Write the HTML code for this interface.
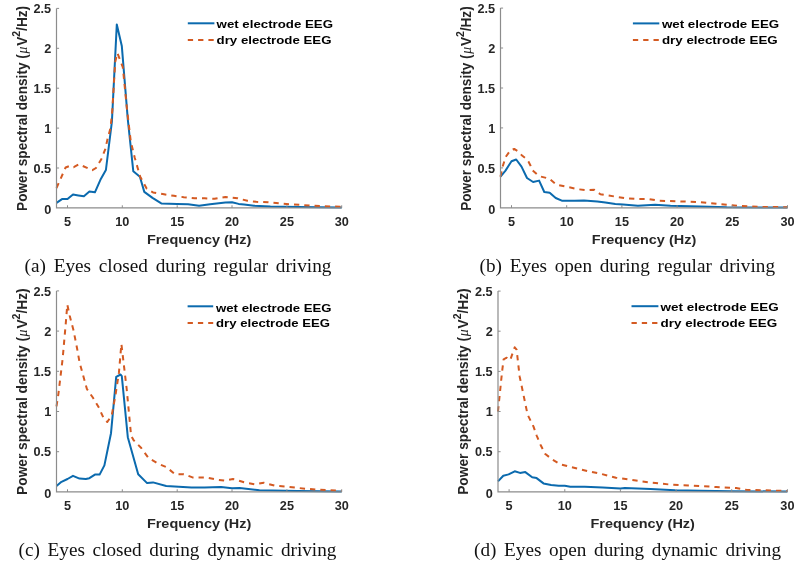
<!DOCTYPE html>
<html><head><meta charset="utf-8"><title>EEG power spectral density</title>
<style>
html,body{margin:0;padding:0;background:#fff;}
body{width:800px;height:561px;overflow:hidden;}
svg{display:block;filter:blur(0.3px);}
.t{font-family:"Liberation Sans",Arial,sans-serif;font-weight:bold;fill:#262626;}
.cap{font-family:"Liberation Serif","Times New Roman",serif;fill:#111;}
</style></head><body>
<svg width="800" height="561" viewBox="0 0 800 561">
<rect width="800" height="561" fill="#fff"/>
<g>
<polyline points="56.5,202.8 62.0,199.1 67.5,199.1 73.0,194.5 78.4,195.4 83.9,196.2 89.4,191.6 94.9,192.3 100.4,179.8 105.9,170.0 111.9,121.7 116.8,24.4 121.8,45.9 127.8,119.3 133.3,171.3 139.9,176.8 144.3,191.9 152.5,197.9 161.3,203.4 177.2,204.0 188.1,204.3 199.1,205.7 210.1,204.3 225.4,202.6 232.0,202.2 238.6,203.9 244.1,204.5 254.0,205.7 270.4,206.6 297.8,207.1 341.7,207.6" fill="none" stroke="#0b6aae" stroke-width="2.0" stroke-linejoin="round"/>
<polyline points="56.5,188.0 65.6,167.5 69.9,165.9 73.7,167.2 79.0,164.3 92.4,170.2 96.0,168.0 101.3,159.2 105.3,149.1 107.6,138.7 110.5,128.1 112.3,110.5 115.2,61.9 117.4,53.1 122.8,67.1 126.8,107.4 130.8,141.7 134.8,157.9 140.2,176.8 146.8,188.7 153.0,192.4 164.0,194.3 173.9,195.8 183.8,197.2 194.7,198.3 204.6,198.3 214.5,198.8 225.4,197.0 237.5,198.2 247.4,200.8 256.2,201.8 268.2,202.3 279.2,203.4 289.1,204.2 300.0,204.9 309.9,205.5 320.9,206.0 330.8,206.5 341.7,206.8" fill="none" stroke="#d45a22" stroke-width="2.0" stroke-linejoin="round" stroke-dasharray="5.3 5"/>
<path d="M56.5 8.4 V207.9 H341.7" fill="none" stroke="#8c8c8c" stroke-width="1.2"/>
<path d="M56.5 168.0h2.6 M56.5 128.1h2.6 M56.5 88.2h2.6 M56.5 48.3h2.6 M56.5 8.4h2.6 M67.5 207.9v-2.6 M122.3 207.9v-2.6 M177.2 207.9v-2.6 M232.0 207.9v-2.6 M286.9 207.9v-2.6 M341.7 207.9v-2.6" stroke="#8c8c8c" stroke-width="1"/>
<text class="t" x="0.0" y="213.9" font-size="12" text-anchor="end" transform="translate(51.2 0) scale(1.06 1) translate(0.0 0)">0</text>
<text class="t" x="0.0" y="172.8" font-size="12" text-anchor="end" transform="translate(51.2 0) scale(1.06 1) translate(0.0 0)">0.5</text>
<text class="t" x="0.0" y="132.9" font-size="12" text-anchor="end" transform="translate(51.2 0) scale(1.06 1) translate(0.0 0)">1</text>
<text class="t" x="0.0" y="93.0" font-size="12" text-anchor="end" transform="translate(51.2 0) scale(1.06 1) translate(0.0 0)">1.5</text>
<text class="t" x="0.0" y="53.1" font-size="12" text-anchor="end" transform="translate(51.2 0) scale(1.06 1) translate(0.0 0)">2</text>
<text class="t" x="0.0" y="13.2" font-size="12" text-anchor="end" transform="translate(51.2 0) scale(1.06 1) translate(0.0 0)">2.5</text>
<text class="t" x="0" y="226.3" font-size="12" text-anchor="middle" transform="translate(67.5 0) scale(1.06 1)">5</text>
<text class="t" x="0" y="226.3" font-size="12" text-anchor="middle" transform="translate(122.3 0) scale(1.06 1)">10</text>
<text class="t" x="0" y="226.3" font-size="12" text-anchor="middle" transform="translate(177.2 0) scale(1.06 1)">15</text>
<text class="t" x="0" y="226.3" font-size="12" text-anchor="middle" transform="translate(232.0 0) scale(1.06 1)">20</text>
<text class="t" x="0" y="226.3" font-size="12" text-anchor="middle" transform="translate(286.9 0) scale(1.06 1)">25</text>
<text class="t" x="0" y="226.3" font-size="12" text-anchor="middle" transform="translate(341.7 0) scale(1.06 1)">30</text>
<text class="t" x="199.1" y="243.8" font-size="13.5" text-anchor="middle" textLength="104.4" lengthAdjust="spacingAndGlyphs">Frequency (Hz)</text>
<text class="t" font-size="12.6" transform="translate(26.9 210.9) rotate(-90) scale(1 1.12)" textLength="205.0" lengthAdjust="spacingAndGlyphs">Power spectral density (<tspan dx="0.6" style="font-family:&quot;Liberation Serif&quot;,serif;font-style:italic;font-weight:normal">μ</tspan><tspan dx="0.8">V</tspan><tspan font-size="9.7" dy="-6.3">2</tspan><tspan dy="6.3">/Hz)</tspan></text>
<line x1="187.8" y1="23.3" x2="214.4" y2="23.3" stroke="#0b6aae" stroke-width="2"/>
<line x1="187.8" y1="40.0" x2="214.4" y2="40.0" stroke="#d45a22" stroke-width="2" stroke-dasharray="5.3 5"/>
<text class="t" x="216.6" y="27.9" font-size="11.6" textLength="116.4" lengthAdjust="spacingAndGlyphs" style="fill:#000">wet electrode EEG</text>
<text class="t" x="216.6" y="43.6" font-size="11.6" textLength="114.9" lengthAdjust="spacingAndGlyphs" style="fill:#000">dry electrode EEG</text>
<text class="cap" x="24.6" y="272.0" font-size="19.2" word-spacing="2.9" textLength="306.8" lengthAdjust="spacingAndGlyphs">(a) Eyes closed during regular driving</text>
</g>
<g>
<polyline points="500.5,176.6 505.5,170.6 511.5,161.2 516.2,159.5 521.5,166.6 527.0,178.0 533.1,182.0 539.1,180.6 544.3,192.0 549.7,192.7 555.7,198.0 561.8,200.7 574.5,200.7 584.0,200.4 597.3,201.4 605.4,202.6 615.3,204.0 623.0,204.6 637.9,205.7 655.1,204.8 670.5,205.7 700.3,206.4 726.8,207.2 787.5,207.6" fill="none" stroke="#0b6aae" stroke-width="2.0" stroke-linejoin="round"/>
<polyline points="500.5,176.6 502.6,166.7 505.7,156.9 510.5,150.3 514.2,148.9 519.0,152.0 521.7,155.2 526.2,158.7 528.4,161.5 530.6,165.8 532.4,170.3 536.9,174.3 540.9,176.6 549.1,178.6 556.5,184.6 566.5,186.7 578.6,189.3 587.3,190.2 594.3,189.8 600.4,194.2 615.3,196.6 625.3,198.2 638.5,199.0 648.4,199.0 658.4,200.7 680.5,201.4 700.3,202.2 718.0,204.0 737.9,205.7 763.3,207.0 787.5,207.2" fill="none" stroke="#d45a22" stroke-width="2.0" stroke-linejoin="round" stroke-dasharray="5.3 5"/>
<path d="M500.5 8.1 V207.8 H787.5" fill="none" stroke="#8c8c8c" stroke-width="1.2"/>
<path d="M500.5 167.9h2.6 M500.5 127.9h2.6 M500.5 88.0h2.6 M500.5 48.0h2.6 M500.5 8.1h2.6 M511.5 207.8v-2.6 M566.7 207.8v-2.6 M621.9 207.8v-2.6 M677.1 207.8v-2.6 M732.3 207.8v-2.6 M787.5 207.8v-2.6" stroke="#8c8c8c" stroke-width="1"/>
<text class="t" x="0.0" y="213.8" font-size="12" text-anchor="end" transform="translate(495.2 0) scale(1.06 1) translate(0.0 0)">0</text>
<text class="t" x="0.0" y="172.7" font-size="12" text-anchor="end" transform="translate(495.2 0) scale(1.06 1) translate(0.0 0)">0.5</text>
<text class="t" x="0.0" y="132.7" font-size="12" text-anchor="end" transform="translate(495.2 0) scale(1.06 1) translate(0.0 0)">1</text>
<text class="t" x="0.0" y="92.8" font-size="12" text-anchor="end" transform="translate(495.2 0) scale(1.06 1) translate(0.0 0)">1.5</text>
<text class="t" x="0.0" y="52.8" font-size="12" text-anchor="end" transform="translate(495.2 0) scale(1.06 1) translate(0.0 0)">2</text>
<text class="t" x="0.0" y="12.9" font-size="12" text-anchor="end" transform="translate(495.2 0) scale(1.06 1) translate(0.0 0)">2.5</text>
<text class="t" x="0" y="226.2" font-size="12" text-anchor="middle" transform="translate(511.5 0) scale(1.06 1)">5</text>
<text class="t" x="0" y="226.2" font-size="12" text-anchor="middle" transform="translate(566.7 0) scale(1.06 1)">10</text>
<text class="t" x="0" y="226.2" font-size="12" text-anchor="middle" transform="translate(621.9 0) scale(1.06 1)">15</text>
<text class="t" x="0" y="226.2" font-size="12" text-anchor="middle" transform="translate(677.1 0) scale(1.06 1)">20</text>
<text class="t" x="0" y="226.2" font-size="12" text-anchor="middle" transform="translate(732.3 0) scale(1.06 1)">25</text>
<text class="t" x="0" y="226.2" font-size="12" text-anchor="middle" transform="translate(787.5 0) scale(1.06 1)">30</text>
<text class="t" x="644.0" y="243.7" font-size="13.5" text-anchor="middle" textLength="104.4" lengthAdjust="spacingAndGlyphs">Frequency (Hz)</text>
<text class="t" font-size="12.6" transform="translate(470.9 210.8) rotate(-90) scale(1 1.12)" textLength="204.5" lengthAdjust="spacingAndGlyphs">Power spectral density (<tspan dx="0.6" style="font-family:&quot;Liberation Serif&quot;,serif;font-style:italic;font-weight:normal">μ</tspan><tspan dx="0.8">V</tspan><tspan font-size="9.7" dy="-6.3">2</tspan><tspan dy="6.3">/Hz)</tspan></text>
<line x1="632.9" y1="23.4" x2="659.3" y2="23.4" stroke="#0b6aae" stroke-width="2"/>
<line x1="632.9" y1="40.0" x2="659.3" y2="40.0" stroke="#d45a22" stroke-width="2" stroke-dasharray="5.3 5"/>
<text class="t" x="661.9" y="28.1" font-size="11.6" textLength="117.3" lengthAdjust="spacingAndGlyphs" style="fill:#000">wet electrode EEG</text>
<text class="t" x="661.9" y="43.9" font-size="11.6" textLength="115.8" lengthAdjust="spacingAndGlyphs" style="fill:#000">dry electrode EEG</text>
<text class="cap" x="479.6" y="272.0" font-size="19.2" word-spacing="2.9" textLength="295.4" lengthAdjust="spacingAndGlyphs">(b) Eyes open during regular driving</text>
</g>
<g>
<polyline points="56.5,485.9 61.5,481.8 67.5,479.0 73.0,475.8 79.5,478.6 85.8,479.0 89.4,478.2 94.9,474.6 99.6,474.6 104.4,465.4 111.0,433.2 116.2,376.9 120.6,374.5 121.8,376.1 127.8,437.2 138.2,474.2 147.1,483.1 153.0,482.4 166.2,486.0 191.4,487.5 204.6,487.5 221.1,487.1 232.0,488.3 239.7,487.9 259.4,490.3 297.8,491.1 341.7,491.5" fill="none" stroke="#0b6aae" stroke-width="2.0" stroke-linejoin="round"/>
<polyline points="56.5,406.3 58.4,393.8 62.6,359.2 65.8,323.1 67.3,304.6 69.7,315.8 73.5,330.3 77.0,348.0 79.6,362.5 83.3,376.1 86.9,389.0 93.0,397.8 98.4,406.7 103.7,418.3 107.3,422.0 111.7,415.5 115.3,396.2 118.9,372.9 121.4,344.0 126.7,389.0 131.1,435.6 133.8,440.4 141.0,447.7 148.6,458.1 158.5,463.8 166.2,467.0 175.0,474.2 183.8,474.2 192.5,477.4 205.7,477.4 217.8,479.8 224.3,480.6 233.1,479.0 244.1,482.3 255.1,484.3 263.8,482.7 274.8,485.7 284.7,486.5 295.6,487.7 305.5,488.7 316.5,489.5 328.6,490.2 341.7,490.9" fill="none" stroke="#d45a22" stroke-width="2.0" stroke-linejoin="round" stroke-dasharray="5.3 5"/>
<path d="M56.5 290.9 V491.9 H341.7" fill="none" stroke="#8c8c8c" stroke-width="1.2"/>
<path d="M56.5 451.7h2.6 M56.5 411.5h2.6 M56.5 371.3h2.6 M56.5 331.1h2.6 M56.5 290.9h2.6 M67.5 491.9v-2.6 M122.3 491.9v-2.6 M177.2 491.9v-2.6 M232.0 491.9v-2.6 M286.9 491.9v-2.6 M341.7 491.9v-2.6" stroke="#8c8c8c" stroke-width="1"/>
<text class="t" x="0.0" y="497.9" font-size="12" text-anchor="end" transform="translate(51.2 0) scale(1.06 1) translate(0.0 0)">0</text>
<text class="t" x="0.0" y="456.5" font-size="12" text-anchor="end" transform="translate(51.2 0) scale(1.06 1) translate(0.0 0)">0.5</text>
<text class="t" x="0.0" y="416.3" font-size="12" text-anchor="end" transform="translate(51.2 0) scale(1.06 1) translate(0.0 0)">1</text>
<text class="t" x="0.0" y="376.1" font-size="12" text-anchor="end" transform="translate(51.2 0) scale(1.06 1) translate(0.0 0)">1.5</text>
<text class="t" x="0.0" y="335.9" font-size="12" text-anchor="end" transform="translate(51.2 0) scale(1.06 1) translate(0.0 0)">2</text>
<text class="t" x="0.0" y="295.7" font-size="12" text-anchor="end" transform="translate(51.2 0) scale(1.06 1) translate(0.0 0)">2.5</text>
<text class="t" x="0" y="510.3" font-size="12" text-anchor="middle" transform="translate(67.5 0) scale(1.06 1)">5</text>
<text class="t" x="0" y="510.3" font-size="12" text-anchor="middle" transform="translate(122.3 0) scale(1.06 1)">10</text>
<text class="t" x="0" y="510.3" font-size="12" text-anchor="middle" transform="translate(177.2 0) scale(1.06 1)">15</text>
<text class="t" x="0" y="510.3" font-size="12" text-anchor="middle" transform="translate(232.0 0) scale(1.06 1)">20</text>
<text class="t" x="0" y="510.3" font-size="12" text-anchor="middle" transform="translate(286.9 0) scale(1.06 1)">25</text>
<text class="t" x="0" y="510.3" font-size="12" text-anchor="middle" transform="translate(341.7 0) scale(1.06 1)">30</text>
<text class="t" x="199.1" y="527.8" font-size="13.5" text-anchor="middle" textLength="104.4" lengthAdjust="spacingAndGlyphs">Frequency (Hz)</text>
<text class="t" font-size="12.6" transform="translate(26.9 494.9) rotate(-90) scale(1 1.12)" textLength="206.5" lengthAdjust="spacingAndGlyphs">Power spectral density (<tspan dx="0.6" style="font-family:&quot;Liberation Serif&quot;,serif;font-style:italic;font-weight:normal">μ</tspan><tspan dx="0.8">V</tspan><tspan font-size="9.7" dy="-6.3">2</tspan><tspan dy="6.3">/Hz)</tspan></text>
<line x1="187.6" y1="306.3" x2="213.2" y2="306.3" stroke="#0b6aae" stroke-width="2"/>
<line x1="187.6" y1="323.1" x2="213.2" y2="323.1" stroke="#d45a22" stroke-width="2" stroke-dasharray="5.3 5"/>
<text class="t" x="216.1" y="311.5" font-size="11.6" textLength="115.4" lengthAdjust="spacingAndGlyphs" style="fill:#000">wet electrode EEG</text>
<text class="t" x="216.1" y="327.0" font-size="11.6" textLength="113.9" lengthAdjust="spacingAndGlyphs" style="fill:#000">dry electrode EEG</text>
<text class="cap" x="18.6" y="556.0" font-size="19.2" word-spacing="2.9" textLength="317.8" lengthAdjust="spacingAndGlyphs">(c) Eyes closed during dynamic driving</text>
</g>
<g>
<polyline points="498.0,481.4 503.3,475.7 508.6,474.4 514.7,471.3 520.0,472.9 525.3,472.1 532.2,477.3 536.6,478.1 543.5,483.4 551.1,485.0 558.7,485.8 564.8,485.8 570.3,486.7 584.8,486.7 602.6,487.4 620.4,488.6 624.9,488.1 650.5,488.9 675.0,490.2 700.6,490.8 731.7,491.2 787.4,491.5" fill="none" stroke="#0b6aae" stroke-width="2.0" stroke-linejoin="round"/>
<polyline points="498.0,411.5 502.1,371.4 503.6,359.3 506.7,357.7 510.2,360.1 514.7,347.3 516.6,349.7 519.6,376.2 523.6,395.4 527.6,414.7 533.6,426.8 536.7,435.6 540.5,444.7 545.0,453.7 552.5,459.7 560.3,464.3 570.3,466.9 580.4,469.3 590.4,471.7 600.4,473.7 616.0,477.7 636.0,480.6 650.5,482.6 670.5,484.6 692.8,485.6 716.1,487.0 736.2,488.0 746.2,489.8 762.9,490.2 787.4,491.0" fill="none" stroke="#d45a22" stroke-width="2.0" stroke-linejoin="round" stroke-dasharray="5.3 5"/>
<path d="M498.0 291.1 V491.8 H787.4" fill="none" stroke="#8c8c8c" stroke-width="1.2"/>
<path d="M498.0 451.7h2.6 M498.0 411.5h2.6 M498.0 371.4h2.6 M498.0 331.2h2.6 M498.0 291.1h2.6 M509.1 491.8v-2.6 M564.8 491.8v-2.6 M620.4 491.8v-2.6 M676.1 491.8v-2.6 M731.7 491.8v-2.6 M787.4 491.8v-2.6" stroke="#8c8c8c" stroke-width="1"/>
<text class="t" x="0.0" y="497.8" font-size="12" text-anchor="end" transform="translate(492.7 0) scale(1.06 1) translate(0.0 0)">0</text>
<text class="t" x="0.0" y="456.5" font-size="12" text-anchor="end" transform="translate(492.7 0) scale(1.06 1) translate(0.0 0)">0.5</text>
<text class="t" x="0.0" y="416.3" font-size="12" text-anchor="end" transform="translate(492.7 0) scale(1.06 1) translate(0.0 0)">1</text>
<text class="t" x="0.0" y="376.2" font-size="12" text-anchor="end" transform="translate(492.7 0) scale(1.06 1) translate(0.0 0)">1.5</text>
<text class="t" x="0.0" y="336.0" font-size="12" text-anchor="end" transform="translate(492.7 0) scale(1.06 1) translate(0.0 0)">2</text>
<text class="t" x="0.0" y="295.9" font-size="12" text-anchor="end" transform="translate(492.7 0) scale(1.06 1) translate(0.0 0)">2.5</text>
<text class="t" x="0" y="510.2" font-size="12" text-anchor="middle" transform="translate(509.1 0) scale(1.06 1)">5</text>
<text class="t" x="0" y="510.2" font-size="12" text-anchor="middle" transform="translate(564.8 0) scale(1.06 1)">10</text>
<text class="t" x="0" y="510.2" font-size="12" text-anchor="middle" transform="translate(620.4 0) scale(1.06 1)">15</text>
<text class="t" x="0" y="510.2" font-size="12" text-anchor="middle" transform="translate(676.1 0) scale(1.06 1)">20</text>
<text class="t" x="0" y="510.2" font-size="12" text-anchor="middle" transform="translate(731.7 0) scale(1.06 1)">25</text>
<text class="t" x="0" y="510.2" font-size="12" text-anchor="middle" transform="translate(787.4 0) scale(1.06 1)">30</text>
<text class="t" x="642.7" y="527.7" font-size="13.5" text-anchor="middle" textLength="104.4" lengthAdjust="spacingAndGlyphs">Frequency (Hz)</text>
<text class="t" font-size="12.6" transform="translate(468.4 494.8) rotate(-90) scale(1 1.12)" textLength="206.5" lengthAdjust="spacingAndGlyphs">Power spectral density (<tspan dx="0.6" style="font-family:&quot;Liberation Serif&quot;,serif;font-style:italic;font-weight:normal">μ</tspan><tspan dx="0.8">V</tspan><tspan font-size="9.7" dy="-6.3">2</tspan><tspan dy="6.3">/Hz)</tspan></text>
<line x1="631.5" y1="306.2" x2="658.4" y2="306.2" stroke="#0b6aae" stroke-width="2"/>
<line x1="631.5" y1="323.0" x2="658.4" y2="323.0" stroke="#d45a22" stroke-width="2" stroke-dasharray="5.3 5"/>
<text class="t" x="660.6" y="311.4" font-size="11.6" textLength="118.2" lengthAdjust="spacingAndGlyphs" style="fill:#000">wet electrode EEG</text>
<text class="t" x="660.6" y="326.9" font-size="11.6" textLength="116.7" lengthAdjust="spacingAndGlyphs" style="fill:#000">dry electrode EEG</text>
<text class="cap" x="474.0" y="556.0" font-size="19.2" word-spacing="2.9" textLength="307.0" lengthAdjust="spacingAndGlyphs">(d) Eyes open during dynamic driving</text>
</g>
</svg>
</body></html>
